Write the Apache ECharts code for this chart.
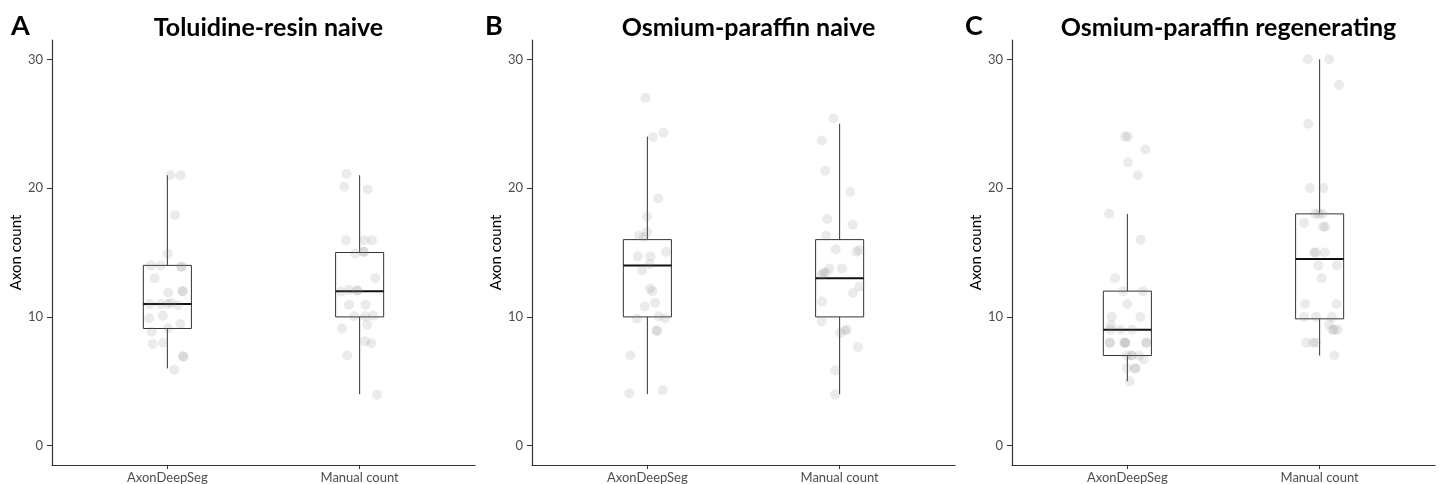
<!DOCTYPE html>
<html><head><meta charset="utf-8">
<script src="https://cdn.jsdelivr.net/npm/echarts@6/dist/echarts.min.js"></script>
<style>html,body{margin:0;padding:0;background:#fff}#c{width:1440px;height:484px}</style>
</head><body><div id="c"></div>
<script>
// ---------- data ----------
const categories = ['AxonDeepSeg', 'Manual count'];
const panelTitles = ['Toluidine-resin naive', 'Osmium-paraffin naive', 'Osmium-paraffin regenerating'];
const panelLetters = ['A', 'B', 'C'];
const yTicks = [0, 10, 20, 30];
const yLabel = 'Axon count';

// box statistics per category: [min, q1, median, q3, max]
const boxA = [[6, 9.1, 11, 14, 21], [4, 10, 12, 15, 21]];
const boxB = [[4, 10, 14, 16, 24], [4, 10, 13, 16, 25]];
const boxC = [[5, 7, 9, 12, 18], [7, 9.85, 14.5, 18, 30]];

// individual points: values and horizontal jitter (category units)
const aDeepY = [21, 21, 17.9, 14.9, 14, 14, 13.9, 13.9, 13, 11.9, 12, 12, 11, 11, 11, 11.1, 10.9, 9.9, 10.1, 9.1, 9.45, 8.85, 7.9, 8, 6.9, 6.95, 5.9];
const aDeepJ = [0.016, 0.069, 0.040, 0.002, -0.087, -0.035, 0.071, 0.075, -0.066, 0.005, 0.080, 0.078, -0.090, -0.035, 0.003, 0.019, 0.055, -0.095, -0.024, 0.003, 0.068, -0.081, -0.076, -0.021, 0.085, 0.081, 0.036];
const aManY = [21.1, 20.1, 19.9, 15.95, 15.95, 15.95, 14.9, 15.05, 15.05, 13, 11.95, 12.1, 12.05, 12.05, 10.95, 10.95, 10.05, 10.05, 10.1, 9.4, 9.1, 8.1, 7.95, 7, 3.95];
const aManJ = [-0.068, -0.080, 0.042, -0.071, 0.024, 0.064, -0.023, 0.023, 0.020, 0.081, -0.097, -0.055, -0.014, -0.010, -0.055, 0.031, -0.029, 0.029, 0.071, 0.040, -0.092, 0.028, 0.061, -0.064, 0.090];

const bDeepY = [27, 23.95, 24.3, 19.2, 17.8, 16.6, 16.3, 16.2, 14.7, 14.7, 15.05, 14.1, 13.6, 12.2, 12, 11.1, 10.8, 9.85, 10.05, 9.9, 8.95, 8.9, 7, 4.05, 4.3];
const bDeepJ = [-0.010, 0.029, 0.083, 0.057, -0.002, -0.002, -0.042, -0.017, -0.050, 0.016, 0.097, 0.012, -0.028, 0.014, 0.026, 0.040, -0.014, -0.055, 0.059, 0.092, 0.049, 0.050, -0.088, -0.094, 0.080];
const bManY = [25.4, 23.7, 21.35, 19.7, 17.6, 17.15, 16.3, 15.25, 15.05, 15.2, 13.75, 13.75, 13.4, 13.25, 13.45, 11.85, 12.35, 11.2, 9.65, 8.75, 9, 8.95, 7.65, 5.85, 4];
const bManJ = [-0.033, -0.092, -0.075, 0.055, -0.064, 0.068, -0.071, -0.021, 0.088, 0.102, -0.054, 0.012, -0.085, -0.094, -0.071, 0.068, 0.102, -0.092, -0.094, 0.003, 0.038, 0.028, 0.095, -0.023, -0.023];

const cDeepY = [24, 24, 23, 22, 21, 18, 16, 13, 12, 12, 11, 10, 10, 9.35, 9, 9, 9, 8, 8, 8, 8, 8, 8, 8, 7, 7, 7, 7, 6.7, 6, 6, 6, 5];
const cDeepJ = [-0.012, 0.002, 0.094, 0.003, 0.054, -0.095, 0.069, -0.064, -0.021, 0.080, 0, -0.081, 0.068, -0.085, -0.088, -0.035, 0.026, -0.092, -0.090, -0.016, -0.012, -0.009, 0.099, 0.097, -0.003, 0.021, 0.024, 0.061, 0.085, -0.003, 0.040, 0.043, 0.012];
const cManY = [30, 30, 28, 25, 20, 20, 18, 18, 18, 17.3, 17, 17, 15, 15, 15, 14, 14, 13, 11, 11, 10, 10, 10, 9.4, 9, 9, 9, 8, 8, 8, 7];
const cManJ = [-0.061, 0.050, 0.101, -0.059, -0.050, 0.019, -0.023, -0.005, 0.014, -0.081, 0.019, 0.029, -0.029, -0.019, 0.026, -0.007, 0.090, 0.010, -0.075, 0.087, -0.081, -0.019, 0.064, 0.049, 0.066, 0.076, 0.094, -0.069, -0.033, -0.019, 0.076];

// ---------- build ----------
const panels = [
  { box: boxA, pts: [[aDeepY, aDeepJ], [aManY, aManJ]] },
  { box: boxB, pts: [[bDeepY, bDeepJ], [bManY, bManJ]] },
  { box: boxC, pts: [[cDeepY, cDeepJ], [cManY, cManJ]] }
];
const gridLefts = [52, 532, 1012];
const letterLefts = [6, 480, 960];
const gridWidth = 423;
const fontFamily = 'Lato, "Open Sans", sans-serif';

function renderBox(params, api) {
  const x = api.value(0);
  const pMin = api.coord([x, api.value(1)]);
  const pQ1 = api.coord([x, api.value(2)]);
  const pMd = api.coord([x, api.value(3)]);
  const pQ3 = api.coord([x, api.value(4)]);
  const pMax = api.coord([x, api.value(5)]);
  const w = api.size([0.25, 0])[0];
  const hw = w / 2;
  const cx = pMd[0];
  const stroke = { stroke: '#333', lineWidth: 1 };
  return {
    type: 'group',
    children: [
      { type: 'line', shape: { x1: cx, y1: pMin[1], x2: cx, y2: pQ1[1] }, style: stroke },
      { type: 'line', shape: { x1: cx, y1: pQ3[1], x2: cx, y2: pMax[1] }, style: stroke },
      { type: 'rect', shape: { x: cx - hw, y: pQ3[1], width: w, height: pQ1[1] - pQ3[1] }, style: { fill: '#fff', stroke: '#333', lineWidth: 1 } },
      { type: 'line', shape: { x1: cx - hw, y1: pMd[1], x2: cx + hw, y2: pMd[1] }, style: { stroke: '#111', lineWidth: 2 } }
    ]
  };
}

const option = { animation: false, backgroundColor: '#fff', grid: [], xAxis: [], yAxis: [], series: [], title: [] };

panels.forEach((p, i) => {
  option.grid.push({ left: gridLefts[i], width: gridWidth, top: 40, bottom: 18 });
  option.xAxis.push({
    type: 'value', gridIndex: i, min: 0.4, max: 2.6,
    axisLine: { onZero: false, lineStyle: { color: '#333', width: 1.2 } },
    axisTick: { show: true, length: 4, customValues: [1, 2], lineStyle: { color: '#333' } },
    axisLabel: { customValues: [1, 2], margin: 6, color: '#4d4d4d', fontSize: 13, fontFamily: fontFamily,
      formatter: v => categories[Math.round(v) - 1] || '' },
    splitLine: { show: false }
  });
  option.yAxis.push({
    type: 'value', gridIndex: i, min: -1.5, max: 31.5,
    name: yLabel, nameLocation: 'middle', nameGap: 26,
    nameTextStyle: { fontSize: 15, color: '#000', fontFamily: fontFamily },
    axisLine: { show: true, onZero: false, lineStyle: { color: '#333', width: 1.2 } },
    axisTick: { show: true, length: 5, customValues: yTicks, lineStyle: { color: '#333' } },
    axisLabel: { customValues: yTicks, margin: 9, color: '#4d4d4d', fontSize: 13, fontFamily: fontFamily },
    splitLine: { show: false }
  });
  option.series.push({
    type: 'custom', xAxisIndex: i, yAxisIndex: i, z: 2,
    renderItem: renderBox,
    encode: { x: 0, y: [1, 2, 3, 4, 5] },
    data: p.box.map((b, k) => [k + 1].concat(b))
  });
  p.pts.forEach((pair, k) => {
    const ys = pair[0], js = pair[1];
    option.series.push({
      type: 'scatter', xAxisIndex: i, yAxisIndex: i, z: 3,
      symbolSize: 10,
      itemStyle: { color: 'rgba(128,128,128,0.2)' },
      data: ys.map((y, n) => [k + 1 + js[n], y])
    });
  });
  option.title.push({
    text: panelTitles[i], left: gridLefts[i] + gridWidth / 2, top: 10, textAlign: 'center',
    textStyle: { fontSize: 25, fontWeight: 'bold', color: '#000', fontFamily: fontFamily }
  });
  option.title.push({
    text: panelLetters[i], left: letterLefts[i], top: 8,
    textStyle: { fontSize: 27, fontWeight: 'bold', color: '#000', fontFamily: fontFamily }
  });
});

const chart = echarts.init(document.getElementById('c'), null, { renderer: 'canvas' });
chart.setOption(option);
</script>
</body></html>
